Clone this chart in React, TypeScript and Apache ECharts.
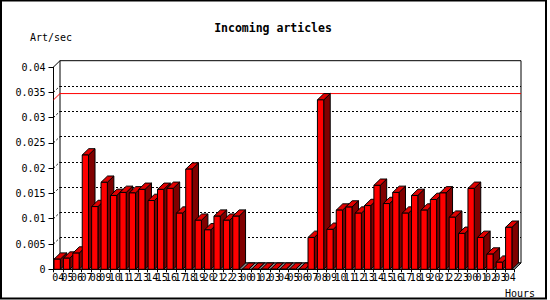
import React, { useEffect, useRef } from 'react';
import * as echarts from 'echarts';

const HOURS = [
  '04', '05', '06', '07', '08', '09', '10', '11', '12', '13', '14', '15', '16', '17', '18', '19', '20', '21', '22', '23',
  '00', '01', '02', '03', '04', '05', '06', '07', '08', '09', '10', '11', '12', '13', '14', '15', '16', '17', '18', '19', '20', '21', '22', '23',
  '00', '01', '02', '03', '04',
];

const ARTICLES_PER_SEC = [
  0.002, 0.0022, 0.0032, 0.0226, 0.0124, 0.0172, 0.0146, 0.0152, 0.0151, 0.0158,
  0.0136, 0.0158, 0.016, 0.0111, 0.0198, 0.0097, 0.0078, 0.0105, 0.0097, 0.0105,
  0, 0, 0, 0, 0, 0, 0,
  0.0063, 0.0335, 0.0079, 0.0117, 0.0123, 0.0111, 0.0126, 0.0166, 0.013, 0.0152,
  0.0111, 0.0146, 0.0117, 0.0138, 0.0151, 0.0103, 0.0071,
  0.016, 0.0063, 0.003, 0.0014, 0.0083,
];

const Y_MIN = 0;
const Y_MAX = 0.04;
const Y_STEP = 0.005;

const MONO = '"DejaVu Sans Mono", "Liberation Mono", monospace';
const DX = 6.5;
const DY = 6.3;

export default function App() {
  const ref = useRef<HTMLDivElement>(null);

  useEffect(() => {
    const chart = echarts.init(ref.current!, null, { renderer: 'svg', width: 550, height: 300 });
    const maxVal = Math.max(...ARTICLES_PER_SEC);
    const front = { left: 53.5, top: 67, width: 461, height: 202.3 };
    const back = { left: front.left + DX, top: front.top - DY, width: 461, height: 202.3 };

    const tickVals: number[] = [];
    for (let v = Y_MIN + Y_STEP; v < Y_MAX - 1e-9; v += Y_STEP) tickVals.push(v);

    const floorRender = (params: any, api: any) => {
      const cs = params.coordSys;
      const bottom = cs.y + cs.height;
      const children: any[] = [];
      tickVals.forEach((v) => {
        const yv = api.coord([0, v])[1];
        children.push({
          type: 'line',
          shape: { x1: cs.x, y1: yv, x2: cs.x + DX, y2: yv - DY },
          style: { stroke: '#000', lineWidth: 1, lineDash: [2, 2] },
        });
      });
      const yMax = api.coord([0, maxVal])[1];
      children.push({
        type: 'polyline',
        shape: { points: [[cs.x, yMax], [cs.x + DX, yMax - DY], [cs.x + cs.width + DX, yMax - DY]] },
        style: { stroke: '#ff0000', lineWidth: 1, fill: null },
      });
      children.push({
        type: 'polygon',
        shape: {
          points: [
            [cs.x, bottom],
            [cs.x + cs.width, bottom],
            [cs.x + cs.width + DX, bottom - DY],
            [cs.x + DX, bottom - DY],
          ],
        },
        style: { fill: '#8c8c8c', stroke: '#000', lineWidth: 1 },
      });
      children.push({
        type: 'line',
        shape: { x1: cs.x, y1: cs.y, x2: cs.x + DX, y2: cs.y - DY },
        style: { stroke: '#000', lineWidth: 1 },
      });
      return { type: 'group', children };
    };

    const barRender = (params: any, api: any) => {
      const idx = api.value(0);
      const val = api.value(1);
      const center = api.coord([idx, 0]);
      const band = api.size([1, 0])[0];
      const left = center[0] - band / 2 + 0.5;
      const w = band * 0.67;
      const yBot = center[1];
      const yTop = api.coord([idx, val])[1];
      return {
        type: 'group',
        children: [
          {
            type: 'polygon',
            shape: {
              points: [
                [left + w, yBot],
                [left + w + DX, yBot - DY],
                [left + w + DX, yTop - DY],
                [left + w, yTop],
              ],
            },
            style: { fill: '#800000', stroke: '#000', lineWidth: 1 },
          },
          {
            type: 'polygon',
            shape: {
              points: [
                [left, yTop],
                [left + DX, yTop - DY],
                [left + w + DX, yTop - DY],
                [left + w, yTop],
              ],
            },
            style: { fill: '#e00000', stroke: '#000', lineWidth: 1 },
          },
          {
            type: 'rect',
            shape: { x: left, y: yTop, width: w, height: yBot - yTop },
            style: { fill: '#ff0000', stroke: '#000', lineWidth: 1 },
          },
        ],
      };
    };

    chart.setOption({
      animation: false,
      backgroundColor: '#ffffff',
      grid: [
        { ...back, show: true, borderColor: '#000', borderWidth: 1, backgroundColor: 'transparent' },
        { ...front },
      ],
      xAxis: [
        { gridIndex: 0, type: 'category', data: HOURS, show: false },
        {
          gridIndex: 1,
          type: 'category',
          data: HOURS,
          axisLine: { show: true, lineStyle: { color: '#000', width: 1 } },
          axisTick: { show: true, interval: 0, length: 3, lineStyle: { color: '#000' } },
          axisLabel: { interval: 0, fontFamily: MONO, fontSize: 10, color: '#000', margin: 3 },
          splitLine: { show: false },
        },
      ],
      yAxis: [
        {
          gridIndex: 0,
          type: 'value',
          min: Y_MIN,
          max: Y_MAX,
          interval: Y_STEP,
          axisLine: { show: false },
          axisTick: { show: false },
          axisLabel: { show: false },
          splitLine: {
            show: true,
            showMinLine: false,
            showMaxLine: false,
            lineStyle: { color: '#000', width: 1, type: [2, 2] },
          },
        },
        {
          gridIndex: 1,
          type: 'value',
          min: Y_MIN,
          max: Y_MAX,
          interval: Y_STEP,
          axisLine: { show: true, lineStyle: { color: '#000', width: 1 } },
          axisTick: { show: true, length: 5, lineStyle: { color: '#000' } },
          axisLabel: { fontFamily: MONO, fontSize: 10, color: '#000', margin: 8 },
          splitLine: { show: false },
        },
      ],
      series: [
        {
          type: 'custom',
          xAxisIndex: 1,
          yAxisIndex: 1,
          data: [[0, 0]],
          renderItem: floorRender,
          silent: true,
          z: 1,
        },
        {
          type: 'custom',
          xAxisIndex: 1,
          yAxisIndex: 1,
          data: ARTICLES_PER_SEC.map((v, i) => [i, v]),
          encode: { x: 0, y: 1 },
          renderItem: barRender,
          z: 2,
        },
      ],
      graphic: [
        {
          type: 'rect',
          shape: { x: 1, y: 0.5, width: 545, height: 298 },
          style: { fill: 'none', stroke: '#000', lineWidth: 2 },
          silent: true,
        },
        {
          type: 'text',
          x: 273,
          y: 28,
          style: {
            text: 'Incoming articles',
            fontFamily: MONO,
            fontSize: 11.5,
            fontWeight: 'bold',
            fill: '#000',
            align: 'center',
            verticalAlign: 'middle',
          },
        },
        {
          type: 'text',
          x: 30,
          y: 37,
          style: { text: 'Art/sec', fontFamily: MONO, fontSize: 10, fill: '#000', align: 'left', verticalAlign: 'middle' },
        },
        {
          type: 'text',
          x: 505,
          y: 293,
          style: { text: 'Hours', fontFamily: MONO, fontSize: 10, fill: '#000', align: 'left', verticalAlign: 'middle' },
        },
      ],
    });

    return () => chart.dispose();
  }, []);

  return <div ref={ref} style={{ position: 'absolute', left: 0, top: 0, width: 550, height: 300 }} />;
}
